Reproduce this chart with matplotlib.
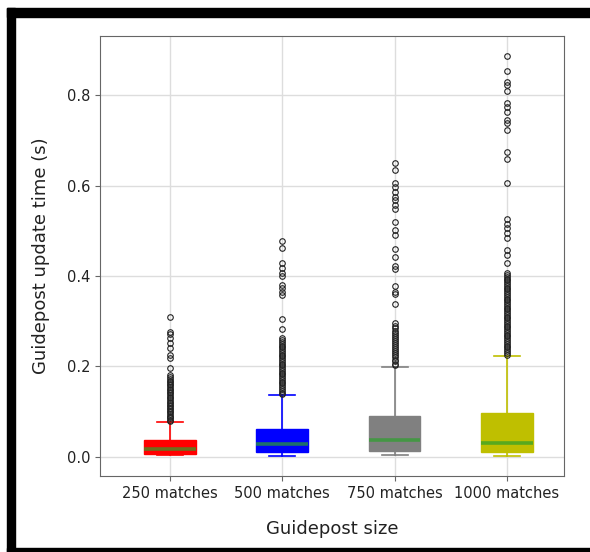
# Box plot of guidepost update times for four guidepost sizes

import matplotlib
matplotlib.use('Agg')
import matplotlib.pyplot as plt
from matplotlib.patches import Rectangle

# Data (seconds)
labels = ['250 matches', '500 matches', '750 matches', '1000 matches']
colors = ['red', 'blue', 'gray', 'y']

medians = [0.017, 0.028, 0.037, 0.030]
q1s = [0.006, 0.011, 0.013, 0.011]
q3s = [0.037, 0.062, 0.090, 0.096]
whis_lo = [0.003, 0.002, 0.004, 0.002]
whis_hi = [0.077, 0.137, 0.199, 0.223]

fliers_250 = [0.309, 0.276, 0.271, 0.262, 0.251, 0.240, 0.225, 0.218, 0.196,
              0.181, 0.176, 0.172, 0.168, 0.165, 0.161, 0.158, 0.154, 0.150,
              0.147, 0.143, 0.140, 0.136, 0.133, 0.129, 0.126, 0.122, 0.119,
              0.115, 0.112, 0.108, 0.105, 0.101, 0.098, 0.094, 0.091, 0.088,
              0.085, 0.082, 0.079]
fliers_500 = [0.478, 0.461, 0.429, 0.417, 0.406, 0.400, 0.380, 0.373, 0.365,
              0.358, 0.305, 0.282, 0.262, 0.258, 0.254, 0.250, 0.246, 0.242,
              0.238, 0.234, 0.230, 0.226, 0.222, 0.218, 0.214, 0.210, 0.206,
              0.202, 0.198, 0.194, 0.190, 0.186, 0.182, 0.178, 0.174, 0.170,
              0.166, 0.162, 0.158, 0.154, 0.150, 0.146, 0.142, 0.139]
fliers_750 = [0.650, 0.634, 0.605, 0.597, 0.586, 0.575, 0.568, 0.557, 0.549,
              0.520, 0.502, 0.490, 0.459, 0.442, 0.422, 0.415, 0.378, 0.365,
              0.360, 0.339, 0.295, 0.289, 0.284, 0.279, 0.274, 0.270, 0.265,
              0.260, 0.256, 0.251, 0.247, 0.242, 0.238, 0.233, 0.229, 0.224,
              0.220, 0.215, 0.211, 0.206, 0.202]
fliers_1000 = [0.886, 0.853, 0.830, 0.822, 0.810, 0.782, 0.773, 0.763, 0.745,
               0.738, 0.724, 0.675, 0.658, 0.606, 0.527, 0.516, 0.505, 0.494,
               0.484, 0.457, 0.446, 0.428, 0.406, 0.402, 0.398, 0.394, 0.390,
               0.386, 0.382, 0.378, 0.374, 0.370, 0.366, 0.362, 0.358, 0.354,
               0.350, 0.346, 0.342, 0.338, 0.334, 0.330, 0.326, 0.322, 0.318,
               0.314, 0.310, 0.306, 0.302, 0.298, 0.294, 0.290, 0.286, 0.282,
               0.278, 0.274, 0.270, 0.266, 0.262, 0.258, 0.254, 0.250, 0.246,
               0.242, 0.238, 0.234, 0.230, 0.226]
fliers = [fliers_250, fliers_500, fliers_750, fliers_1000]

stats = []
for i in range(len(labels)):
    stats.append({'med': medians[i], 'q1': q1s[i], 'q3': q3s[i],
                  'whislo': whis_lo[i], 'whishi': whis_hi[i],
                  'fliers': fliers[i], 'label': labels[i]})

fig = plt.figure(figsize=(5.9, 5.52), dpi=100)
ax = fig.add_axes([0.1695, 0.1377, 0.7865, 0.7971])

bp = ax.bxp(stats, positions=[1, 2, 3, 4], widths=0.46, patch_artist=True,
            flierprops=dict(marker='o', markersize=4, markerfacecolor='none',
                            markeredgecolor='#222222', markeredgewidth=0.8),
            medianprops=dict(color='#2ca02c', linewidth=2.6, alpha=0.7))

for i, c in enumerate(colors):
    bp['boxes'][i].set_facecolor(c)
    bp['boxes'][i].set_edgecolor(c)
    for line in bp['whiskers'][2 * i:2 * i + 2] + bp['caps'][2 * i:2 * i + 2]:
        line.set_color(c)
        line.set_linewidth(1.2)

ax.set_xlim(0.377, 4.508)
ax.set_ylim(-0.0427, 0.931)
ax.set_yticks([0.0, 0.2, 0.4, 0.6, 0.8])
ax.grid(True, color='#dddddd', linewidth=1)
ax.set_axisbelow(True)
for s in ax.spines.values():
    s.set_color('#666666')
ax.tick_params(colors='#666666', labelcolor='#222222', labelsize=10.5)
ax.set_xlabel('Guidepost size', fontsize=13, labelpad=14, color='#222222')
ax.set_ylabel('Guidepost update time (s)', fontsize=13, labelpad=12, color='#222222')

# black frame pieces around the screenshot
fig.patches.append(Rectangle((7 / 590, 0), 8 / 590, 1 - 8 / 552, transform=fig.transFigure,
                             color='black', zorder=10))
fig.patches.append(Rectangle((7 / 590, 1 - 17 / 552), 1, 9 / 552, transform=fig.transFigure,
                             color='black', zorder=10))
fig.patches.append(Rectangle((7 / 590, 0), 1, 4 / 552, transform=fig.transFigure,
                             color='black', zorder=10))

fig.savefig('out.png', dpi=100)
